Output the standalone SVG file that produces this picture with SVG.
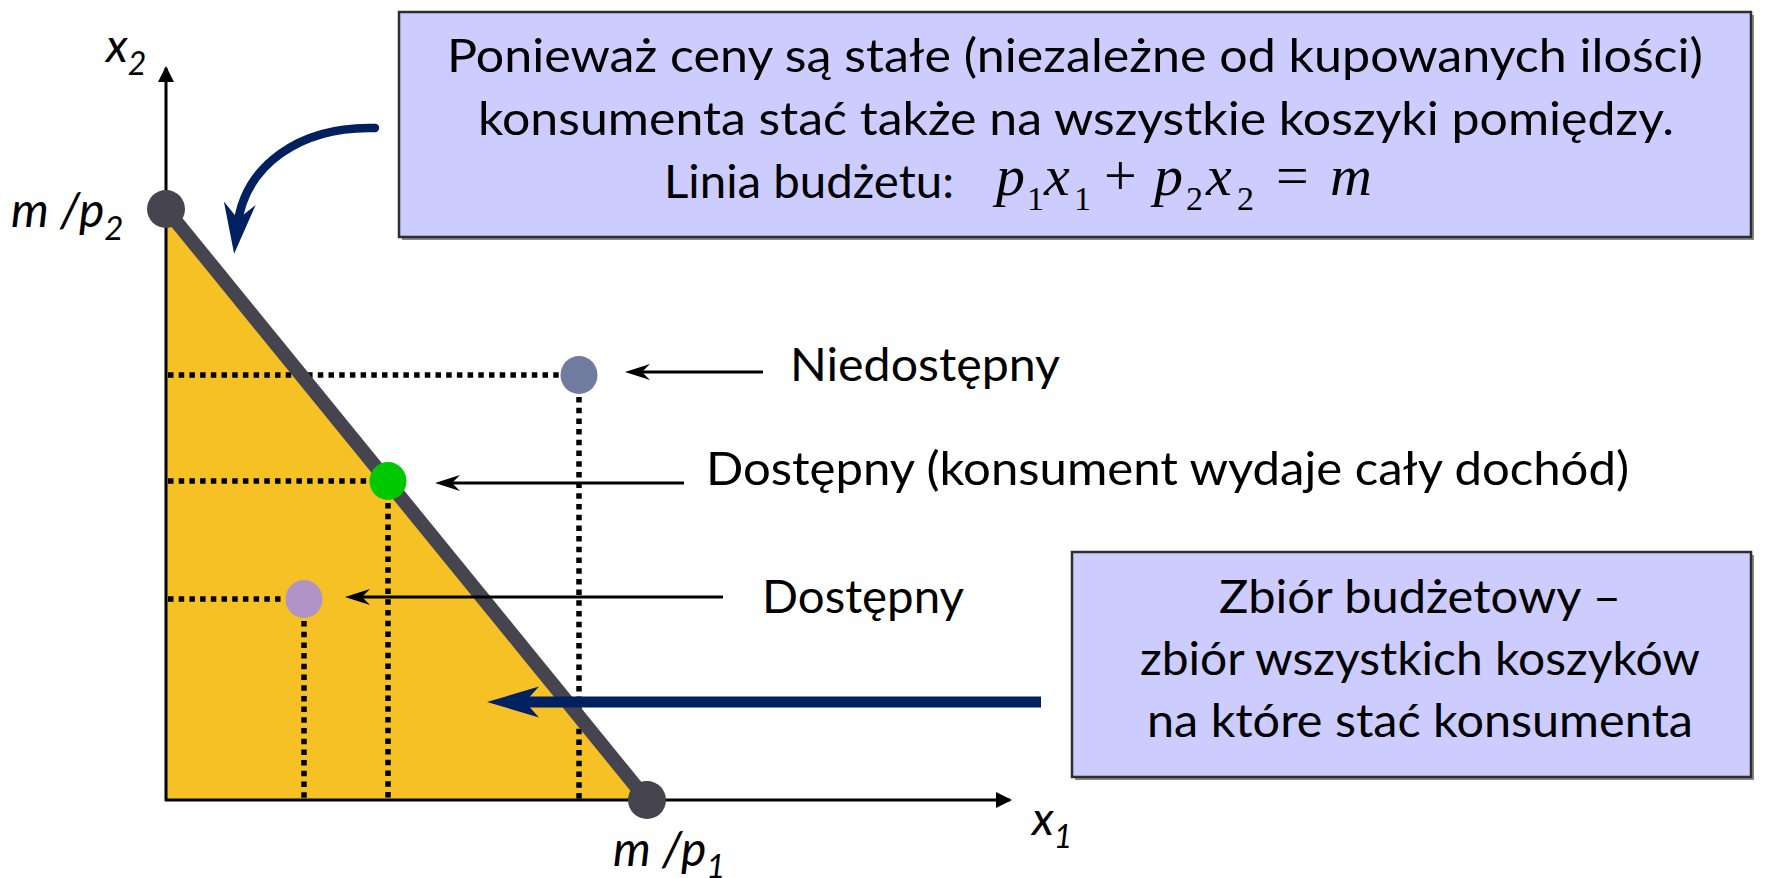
<svg xmlns="http://www.w3.org/2000/svg" width="1765" height="878" viewBox="0 0 1765 878">
  <style>
    .lbl { font-family: Lato, "Open Sans", "Liberation Sans", sans-serif; font-size: 47px; fill: #000; }
    .it { font-family: Lato, "Open Sans", "Liberation Sans", sans-serif; font-style: italic; fill: #000; }
    .math { font-family: "Liberation Serif", "Times New Roman", serif; font-size: 58px; fill: #000; }
    .sub { font-size: 34px; font-style: normal; }
    .box { fill: #CCCCFF; stroke: #2E2E2E; stroke-width: 2.5; }
    .shadow { fill: #8A8A8A; }
    .dot { stroke: #000; stroke-width: 5.5; stroke-dasharray: 5.5 5.2; fill: none; }
    .axis { stroke: #000; stroke-width: 3; fill: none; }
    .thin { stroke: #000; stroke-width: 3; fill: none; }
    .navy { stroke: #002060; fill: none; }
    .pt-end { fill: #45444F; }
  </style>
  <defs>
    <marker id="axisHead" markerUnits="userSpaceOnUse" markerWidth="20" markerHeight="20" viewBox="-18 -10 20 20" refX="-2" refY="0" orient="auto" overflow="visible">
      <path d="M0,0 L-16,-8 L-16,8 Z" fill="#000"/>
    </marker>
    <marker id="thinHead" markerUnits="userSpaceOnUse" markerWidth="32" markerHeight="20" viewBox="-28 -10 32 20" refX="-8" refY="0" orient="auto" overflow="visible">
      <path d="M0,0 L-25,-8 L-17,0 L-25,8 Z" fill="#000"/>
    </marker>
    <marker id="navyHead" markerUnits="userSpaceOnUse" markerWidth="60" markerHeight="40" viewBox="-56 -20 60 40" refX="-30" refY="0" orient="auto" overflow="visible">
      <path d="M0,0 L-52,-15.5 L-38,0 L-52,15.5 Z" fill="#002060"/>
    </marker>
    <marker id="curveHead" markerUnits="userSpaceOnUse" markerWidth="60" markerHeight="40" viewBox="-56 -20 60 40" refX="-26" refY="0" orient="auto" overflow="visible">
      <path d="M0,0 L-51,-16 L-35,0 L-51,16 Z" fill="#002060"/>
    </marker>
  </defs>

  <rect width="1765" height="878" fill="#FFFFFF"/>

  <g id="budget-set">
    <polygon points="166,209 166,800 647,800" fill="#F6C124"/>
  </g>

  <g id="guides">
    <line class="dot" x1="168" y1="375" x2="560" y2="375"/>
    <line class="dot" x1="579" y1="397" x2="579" y2="800"/>
    <line class="dot" x1="168" y1="481" x2="369" y2="481"/>
    <line class="dot" x1="388" y1="503" x2="388" y2="800"/>
    <line class="dot" x1="168" y1="599" x2="285" y2="599"/>
    <line class="dot" x1="304" y1="621" x2="304" y2="800"/>
  </g>

  <g id="axes">
    <line class="axis" x1="166" y1="801" x2="166" y2="68" marker-end="url(#axisHead)"/>
    <line class="axis" x1="165" y1="800" x2="1010" y2="800" marker-end="url(#axisHead)"/>
    <text class="it" x="106" y="62" font-size="47">x<tspan font-size="32" dy="13">2</tspan></text>
    <text class="it" x="1032" y="835" font-size="47">x<tspan font-size="32" dy="13">1</tspan></text>
  </g>

  <g id="budget-line">
    <line x1="166" y1="209" x2="647" y2="800" stroke="#45444F" stroke-width="14"/>
  </g>

  <g id="node-m-p2">
    <circle class="pt-end" cx="166" cy="209" r="19"/>
    <text class="it" x="11" y="227" font-size="48">m /p<tspan font-size="33" dy="13">2</tspan></text>
  </g>

  <g id="node-m-p1">
    <circle class="pt-end" cx="647" cy="800" r="19"/>
    <text class="it" x="613" y="866" font-size="48">m /p<tspan font-size="33" dy="12">1</tspan></text>
  </g>

  <g id="point-niedostepny">
    <ellipse cx="579" cy="375" rx="18.5" ry="19" fill="#717BA0"/>
  </g>
  <g id="point-dostepny-linia">
    <ellipse cx="388" cy="481" rx="18.5" ry="19" fill="#00C800"/>
  </g>
  <g id="point-dostepny">
    <ellipse cx="304" cy="599" rx="18.5" ry="19" fill="#B094C8"/>
  </g>

  <g id="connectors">
    <line class="thin" x1="763" y1="372" x2="633" y2="372" marker-end="url(#thinHead)"/>
    <line class="thin" x1="684" y1="483" x2="443" y2="483" marker-end="url(#thinHead)"/>
    <line class="thin" x1="723" y1="597" x2="353" y2="597" marker-end="url(#thinHead)"/>
    <line class="navy" x1="1041" y1="702" x2="517" y2="702" stroke-width="11" marker-end="url(#navyHead)"/>
    <path class="navy" d="M375,128 C300,126 244,165 237,228" stroke-width="8.5" stroke-linecap="round" marker-end="url(#curveHead)"/>
  </g>

  <g id="label-niedostepny">
    <text class="lbl" x="790" y="381" textLength="270" lengthAdjust="spacingAndGlyphs">Niedostępny</text>
  </g>
  <g id="label-dostepny-linia">
    <text class="lbl" x="706" y="485" textLength="923" lengthAdjust="spacingAndGlyphs">Dostępny (konsument wydaje cały dochód)</text>
  </g>
  <g id="label-dostepny">
    <text class="lbl" x="762" y="613" textLength="202" lengthAdjust="spacingAndGlyphs">Dostępny</text>
  </g>

  <g id="box-top">
    <rect class="shadow" x="402" y="15" width="1352" height="225"/>
    <rect class="box" x="399" y="12" width="1352" height="225"/>
    <text class="lbl" x="447" y="72" textLength="1256" lengthAdjust="spacingAndGlyphs">Ponieważ ceny są stałe (niezależne od kupowanych ilości)</text>
    <text class="lbl" x="478" y="135" textLength="1196" lengthAdjust="spacingAndGlyphs">konsumenta stać także na wszystkie koszyki pomiędzy.</text>
    <text class="lbl" x="664" y="198" textLength="290" lengthAdjust="spacingAndGlyphs">Linia budżetu:</text>
    <text class="math" y="195"><tspan x="996" font-style="italic">p</tspan><tspan class="sub" x="1027" y="210">1</tspan><tspan x="1044" y="195" font-style="italic">x</tspan><tspan class="sub" x="1074" y="210">1</tspan><tspan x="1104" y="195">+</tspan><tspan x="1154" font-style="italic">p</tspan><tspan class="sub" x="1186" y="210">2</tspan><tspan x="1206" y="195" font-style="italic">x</tspan><tspan class="sub" x="1237" y="210">2</tspan><tspan x="1276" y="195">=</tspan><tspan x="1330" font-style="italic">m</tspan></text>
  </g>

  <g id="box-bottom">
    <rect class="shadow" x="1075" y="555" width="679" height="225"/>
    <rect class="box" x="1072" y="552" width="679" height="225"/>
    <text class="lbl" x="1420" y="613" text-anchor="middle" textLength="402" lengthAdjust="spacingAndGlyphs">Zbiór budżetowy –</text>
    <text class="lbl" x="1420" y="675" text-anchor="middle" textLength="560" lengthAdjust="spacingAndGlyphs">zbiór wszystkich koszyków</text>
    <text class="lbl" x="1420" y="737" text-anchor="middle" textLength="546" lengthAdjust="spacingAndGlyphs">na które stać konsumenta</text>
  </g>
</svg>
